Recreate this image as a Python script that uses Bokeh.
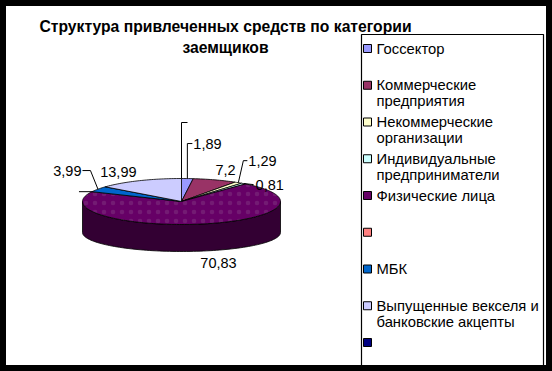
import math
from bokeh.plotting import figure
from bokeh.models import Range1d, ColumnDataSource
from bokeh.core.properties import value
from bokeh.embed import file_html
from bokeh.resources import INLINE

# ---- data ----
categories = ["Госсектор", "Коммерческие\nпредприятия", "Некоммерческие\nорганизации",
              "Индивидуальные\nпредприниматели", "Физические лица", "", "МБК",
              "Выпущенные векселя и\nбанковские акцепты", ""]
shares = [1.89, 7.2, 1.29, 0.81, 70.83, 0.0, 3.99, 13.99, 0.0]
colors = ["#9999FF", "#993366", "#FFFFCC", "#CCFFFF", "#660066", "#FF8080", "#0066CC", "#CCCCFF", "#000080"]
title_lines = ["Структура привлеченных средств по категории", "заемщиков"]

# ---- layout / style (pixel space of the chart, y downwards) ----
W, H = 552, 371
CX, CY, RX, RY = 181, 201, 99, 23
CYB, RYB = 232, 19
FONT = "Liberation Sans"
# per-slice label geometry: (leader offsets, text offset, align, anchor on bottom rim?)
label_style = [
    ([(0, -35), (5, -35)], (6, -35), "left", False),
    ([], (10.5, -9.4), "center", False),
    ([(5, -22), (9, -22)], (10, -22), "left", False),
    ([(10, 1)], (12, 1), "left", False),
    ([], (16, 12), "center", True),
    ([(-13, 0)], (-14, 0), "right", False),
    ([(-7.5, -18.6), (-15.5, -18.6)], (-16.5, -18.6), "right", False),
    ([], (-21, -9), "center", False),
    ([(0, -56), (6, -56)], (7, -56), "left", False),
]

p = figure(width=W, height=H, output_backend="svg", toolbar_location=None,
           x_range=Range1d(0, W), y_range=Range1d(H, 0),
           x_axis_type=None, y_axis_type=None, min_border=0,
           background_fill_color="white", border_fill_color="white")
p.grid.visible = False
p.outline_line_color = "black"
p.outline_line_width = 11


def top_pt(t):
    r = math.radians(t)
    return CX + RX * math.sin(r), CY - RY * math.cos(r)


def bot_pt(t):
    r = math.radians(t)
    return CX + RX * math.sin(r), CYB - RYB * math.cos(r)


def darker(h, f=0.5):
    h = h.lstrip("#")
    rgb = [int(h[i:i + 2], 16) for i in (0, 2, 4)]
    return "#%02x%02x%02x" % tuple(int(c * f) for c in rgb)


total = sum(shares)
bounds = []
acc = 0.0
for v in shares:
    a0 = acc / total * 360
    acc += v
    a1 = acc / total * 360
    bounds.append((a0, a1))

# sides
sx, sy, sc = [], [], []
for (a0, a1), c in zip(bounds, colors):
    lo, hi = max(a0, 90), min(a1, 270)
    if hi <= lo:
        continue
    n = max(2, int((hi - lo) / 2) + 2)
    ts = [lo + (hi - lo) * i / (n - 1) for i in range(n)]
    xs = [top_pt(t)[0] for t in ts] + [bot_pt(t)[0] for t in reversed(ts)]
    ys = [top_pt(t)[1] for t in ts] + [bot_pt(t)[1] for t in reversed(ts)]
    sx.append(xs); sy.append(ys); sc.append(darker(c))
p.patches(xs="xs", ys="ys", fill_color="c", line_color="black", line_width=0.8,
          source=ColumnDataSource(dict(xs=sx, ys=sy, c=sc)))

# tops
tx, ty, tc, th = [], [], [], []
for (a0, a1), c in zip(bounds, colors):
    if a1 - a0 <= 0:
        continue
    n = max(2, int((a1 - a0) / 1.5) + 2)
    ts = [a0 + (a1 - a0) * i / (n - 1) for i in range(n)]
    tx.append([CX] + [top_pt(t)[0] for t in ts])
    ty.append([CY] + [top_pt(t)[1] for t in ts])
    tc.append(c)
    th.append("." if a1 - a0 > 180 else " ")
p.patches(xs="xs", ys="ys", fill_color="c", line_color="black", line_width=0.8,
          hatch_pattern="h", hatch_color="#9a6a9a", hatch_alpha=0.25, hatch_scale=9, hatch_weight=0.3,
          source=ColumnDataSource(dict(xs=tx, ys=ty, c=tc, h=th)))

# labels + leaders
for (a0, a1), v, st in zip(bounds, shares, label_style):
    leader, toff, align, on_bottom = st
    mid = (a0 + a1) / 2
    ax, ay = bot_pt(mid) if on_bottom else top_pt(mid)
    if leader:
        p.line([ax] + [ax + dx for dx, dy in leader], [ay] + [ay + dy for dx, dy in leader],
               line_color="black", line_width=1)
    txt = ("%g" % v).replace(".", ",") if v > 0 else ""
    if txt:
        p.text(x=[ax + toff[0]], y=[ay + toff[1]], text=[txt], text_font=value(FONT),
               text_font_size="14.5px", text_align=align, text_baseline="middle", text_color="black")

# title
for i, line in enumerate(title_lines):
    p.text(x=[225], y=[26 + 21 * i], text=[line], text_font=value(FONT), text_font_size="15.7px",
           text_font_style="bold", text_align="center", text_baseline="middle", text_color="black")

# legend
p.quad(left=[361], right=[543], top=[34], bottom=[380], fill_color=None, line_color="black", line_width=1.2)
for i, (name, c) in enumerate(zip(categories, colors)):
    yc = 48 + 36.75 * i
    p.quad(left=[363], right=[371], top=[yc - 4], bottom=[yc + 4], fill_color=c, line_color="black", line_width=1)
    for j, ln in enumerate(name.split("\n")):
        if ln:
            p.text(x=[376], y=[yc + 16 * j], text=[ln], text_font=value(FONT), text_font_size="14.8px",
                   text_align="left", text_baseline="middle", text_color="black")

open("out.html", "w").write(file_html(p, INLINE))
